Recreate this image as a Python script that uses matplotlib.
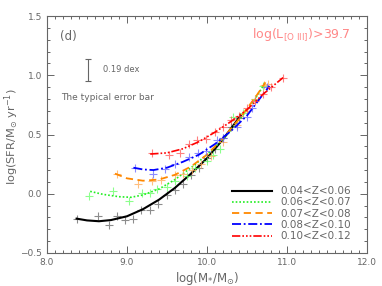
import matplotlib
matplotlib.use("Agg")
import matplotlib.pyplot as plt
from matplotlib.ticker import MultipleLocator

labels = ["0.04<Z<0.06", "0.06<Z<0.07", "0.07<Z<0.08", "0.08<Z<0.10", "0.10<Z<0.12"]

# fitted curves
line1_x = [8.37, 8.5, 8.65, 8.8, 9.0, 9.2, 9.4, 9.6, 9.8, 10.0, 10.2, 10.42]
line1_y = [-0.21, -0.225, -0.232, -0.222, -0.19, -0.13, -0.05, 0.05, 0.17, 0.30, 0.46, 0.66]
line2_x = [8.54, 8.7, 8.9, 9.05, 9.2, 9.4, 9.6, 9.8, 10.0, 10.2, 10.4, 10.6, 10.72]
line2_y = [0.02, -0.005, -0.025, -0.03, -0.01, 0.04, 0.12, 0.22, 0.33, 0.46, 0.62, 0.80, 0.93]
line3_x = [8.85, 9.0, 9.2, 9.4, 9.6, 9.8, 10.0, 10.2, 10.4, 10.6, 10.73]
line3_y = [0.17, 0.13, 0.11, 0.12, 0.16, 0.23, 0.33, 0.47, 0.63, 0.81, 0.94]
line4_x = [9.08, 9.2, 9.33, 9.5, 9.7, 9.9, 10.1, 10.3, 10.5, 10.7, 10.78]
line4_y = [0.22, 0.205, 0.20, 0.22, 0.27, 0.33, 0.42, 0.53, 0.66, 0.84, 0.91]
line5_x = [9.29, 9.5, 9.7, 9.9, 10.1, 10.3, 10.5, 10.7, 10.95]
line5_y = [0.335, 0.345, 0.38, 0.44, 0.52, 0.61, 0.71, 0.84, 0.98]

# binned points (crosses)
pts1_x = [8.37, 8.64, 8.78, 8.88, 8.98, 9.08, 9.18, 9.29, 9.39, 9.50, 9.6, 9.7, 9.8, 9.9, 10.0, 10.1, 10.2, 10.3, 10.4]
pts1_y = [-0.21, -0.19, -0.26, -0.19, -0.22, -0.21, -0.14, -0.14, -0.09, -0.01, 0.03, 0.08, 0.16, 0.22, 0.30, 0.38, 0.47, 0.56, 0.64]
pts2_x = [8.53, 8.83, 9.02, 9.19, 9.29, 9.38, 9.50, 9.60, 9.75, 9.85, 10.0, 10.07, 10.16, 10.33, 10.45, 10.6, 10.7]
pts2_y = [-0.02, 0.02, -0.065, 0.01, 0.01, 0.04, 0.06, 0.11, 0.15, 0.22, 0.28, 0.33, 0.38, 0.65, 0.68, 0.80, 0.91]
pts3_x = [8.87, 9.14, 9.31, 9.42, 9.60, 9.70, 9.81, 9.92, 10.05, 10.2, 10.38, 10.5, 10.6, 10.71, 10.76]
pts3_y = [0.17, 0.08, 0.11, 0.12, 0.16, 0.17, 0.20, 0.25, 0.32, 0.44, 0.58, 0.70, 0.80, 0.92, 0.93]
pts4_x = [9.10, 9.32, 9.48, 9.60, 9.77, 9.89, 9.99, 10.12, 10.2, 10.38, 10.5, 10.56, 10.75]
pts4_y = [0.22, 0.17, 0.21, 0.25, 0.31, 0.34, 0.36, 0.45, 0.47, 0.56, 0.65, 0.72, 0.90]
pts5_x = [9.31, 9.52, 9.66, 9.78, 9.88, 9.99, 10.1, 10.2, 10.3, 10.4, 10.5, 10.6, 10.7, 10.8, 10.95]
pts5_y = [0.34, 0.33, 0.34, 0.42, 0.45, 0.46, 0.52, 0.56, 0.62, 0.66, 0.72, 0.78, 0.84, 0.90, 0.98]

colors = ["black", "#22ee22", "#ff8800", "#0000ff", "#ff0000"]
styles = ["-", (0, (1, 1.2)), (0, (4, 2.5)), (0, (5, 1.5, 1, 1.5)), (0, (5, 1.2, 1, 1.2, 1, 1.2, 1, 1.2))]
widths = [1.5, 1.2, 1.3, 1.3, 1.2]
pt_colors = ["#666666", "#66ff66", "#ffaa55", "#6666ff", "#ff5555"]

gray = "#666666"
fig = plt.figure(figsize=(3.82, 2.86), dpi=100)
ax = fig.add_axes([0.123, 0.1154, 0.838, 0.8286])

lines_x = [line1_x, line2_x, line3_x, line4_x, line5_x]
lines_y = [line1_y, line2_y, line3_y, line4_y, line5_y]
pts_x = [pts1_x, pts2_x, pts3_x, pts4_x, pts5_x]
pts_y = [pts1_y, pts2_y, pts3_y, pts4_y, pts5_y]

handles = []
for i in range(5):
    ax.plot(pts_x[i], pts_y[i], linestyle="none", marker="+", ms=6, mew=0.8,
            color=pt_colors[i], alpha=0.75)
    h, = ax.plot(lines_x[i], lines_y[i], linestyle=styles[i], color=colors[i], lw=widths[i])
    handles.append(h)

ax.set_xlim(8.0, 12.0)
ax.set_ylim(-0.5, 1.5)
ax.xaxis.set_major_locator(MultipleLocator(1.0))
ax.xaxis.set_minor_locator(MultipleLocator(0.1))
ax.yaxis.set_major_locator(MultipleLocator(0.5))
ax.yaxis.set_minor_locator(MultipleLocator(0.1))
ax.xaxis.set_major_formatter(matplotlib.ticker.FormatStrFormatter("%.1f"))
ax.yaxis.set_major_formatter(matplotlib.ticker.FuncFormatter(lambda v, p: ("\u2212%.1f" % -v) if v < 0 else "%.1f" % v))
ax.tick_params(which="both", direction="in", top=True, right=True, colors=gray,
               labelsize=6.5, width=0.7)
ax.tick_params(which="major", length=5)
ax.tick_params(which="minor", length=2.5)
for s in ax.spines.values():
    s.set_color(gray)
    s.set_linewidth(0.8)

ax.set_xlabel(r"log(M$_{*}$/M$_{\odot}$)", fontsize=8.5, color=gray, labelpad=2)
ax.set_ylabel(r"log(SFR/M$_{\odot}$ yr$^{-1}$)", fontsize=8.2, color=gray)
ax.yaxis.set_label_coords(-0.08, 0.49)

ax.text(8.16, 1.33, "(d)", fontsize=8.5, color=gray, ha="left", va="center")
ax.errorbar([8.51], [1.045], yerr=[0.093], color=gray, capsize=2, lw=0.8, capthick=0.8)
ax.text(8.7, 1.045, "0.19 dex", fontsize=6, color=gray, ha="left", va="center")
ax.text(8.18, 0.81, "The typical error bar", fontsize=6.5, color=gray, ha="left", va="center")
ax.text(11.8, 1.34, r"log(L$_{\rm [O\ III]}$)>39.7", fontsize=9, color="#ff8888",
        ha="right", va="center")

leg = ax.legend(handles, labels, loc="upper left", bbox_to_anchor=(0.578, 0.282),
                frameon=False, fontsize=7.5, handlelength=3.8, handletextpad=0.8,
                labelspacing=0.12, borderaxespad=0, borderpad=0)
for t in leg.get_texts():
    t.set_color(gray)

fig.savefig("out.png", dpi=100)
